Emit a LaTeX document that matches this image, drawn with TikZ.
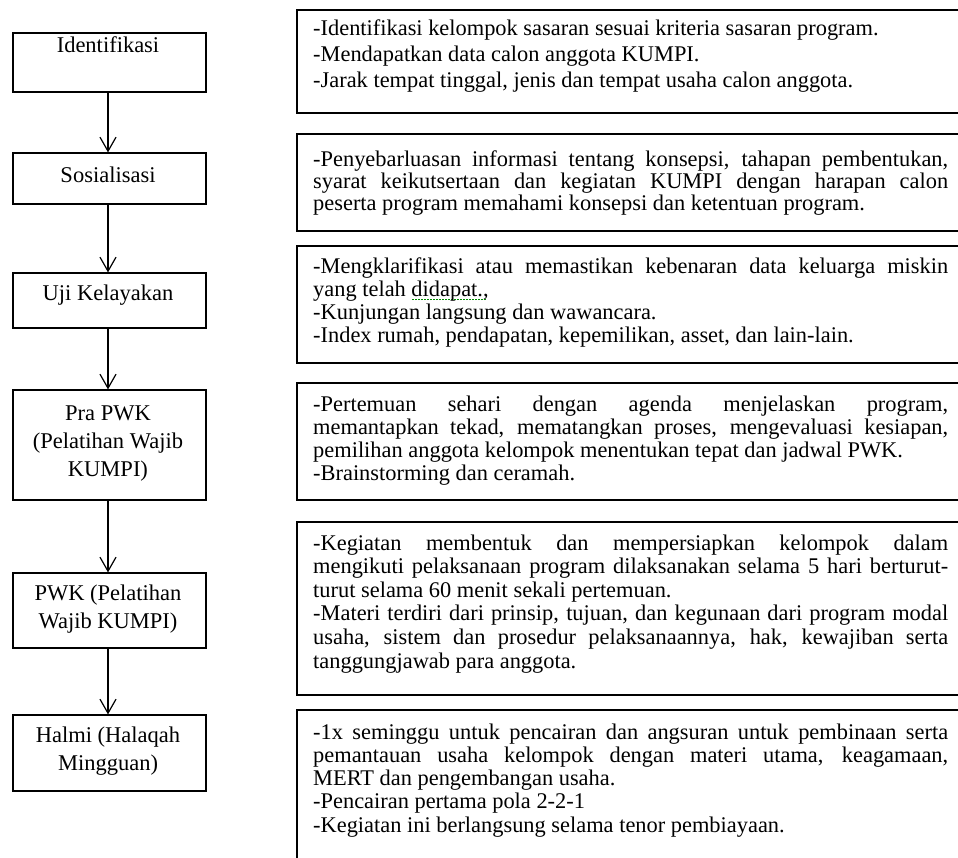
\documentclass[tikz,border=0pt]{standalone}
\usepackage{fontspec}
\setmainfont{Liberation Serif}
\usetikzlibrary{arrows.meta}
\newcommand{\jl}[1]{\makebox[635pt][s]{#1}}
\newcommand{\gdots}[1]{\setbox0=\hbox{#1}\rlap{\color{green!55!black}\hbox to \wd0{\leaders\hbox to 3pt{\hss\rule[-4pt]{1.3pt}{1.3pt}\hss}\hfill}}#1}
\newcommand{\rtext}[2]{\parbox[t]{635pt}{\fontsize{22.4}{#1}\selectfont #2}}
\newcommand{\ltext}[1]{\parbox[t]{190pt}{\centering\fontsize{22.5}{28}\selectfont #1}}
\tikzset{
  lbox/.style={draw, line width=1.2pt, minimum width=193pt, inner sep=0pt},
  rbox/.style={draw, line width=1.2pt, minimum width=668pt, inner sep=0pt},
  txt/.style={inner sep=0pt},
  arr/.style={line width=1.2pt, -{Straight Barb[length=14pt,width=16pt,line width=1.2pt]}}
}
\begin{document}
\begin{tikzpicture}[x=1pt,y=-1pt]
\useasboundingbox (0,0) rectangle (958,857);
\clip (0,0) rectangle (958,857);
\fill[white] (0,0) rectangle (958,857);
% left boxes
\node[lbox, minimum height=59pt] (L1) at (109.5,62.5) {};
\node[lbox, minimum height=51pt] (L2) at (109.5,178.5) {};
\node[lbox, minimum height=55pt] (L3) at (109.5,300.5) {};
\node[lbox, minimum height=110pt] (L4) at (109.5,445) {};
\node[lbox, minimum height=75pt] (L5) at (109.5,610.5) {};
\node[lbox, minimum height=76pt] (L6) at (109.5,753) {};
\node[txt, anchor=base] (l1) at (108,52) {\ltext{Identifikasi}};
\node[txt, anchor=base] (l2) at (108,182) {\ltext{Sosialisasi}};
\node[txt, anchor=base] (l3) at (108,300) {\ltext{Uji Kelayakan}};
\node[txt, anchor=base] (l4) at (108,420) {\ltext{Pra PWK\\(Pelatihan Wajib\\KUMPI)}};
\node[txt, anchor=base] (l5) at (108,600) {\ltext{PWK (Pelatihan\\Wajib KUMPI)}};
\node[txt, anchor=base] (l6) at (108,742) {\ltext{Halmi (Halaqah\\Mingguan)}};
% arrows
\draw[arr] (L1.south -| 108,0) -- (L2.north -| 108,0);
\draw[arr] (L2.south -| 108,0) -- (L3.north -| 108,0);
\draw[arr] (L3.south -| 108,0) -- (L4.north -| 108,0);
\draw[arr] (L4.south -| 108,0) -- (L5.north -| 108,0);
\draw[arr] (L5.south -| 108,0) -- (L6.north -| 108,0);
% right boxes
\node[rbox, minimum height=103pt] (R1) at (631,61.5) {};
\node[rbox, minimum height=97pt] (R2) at (631,182.5) {};
\node[rbox, minimum height=117pt] (R3) at (631,304.5) {};
\node[rbox, minimum height=117pt] (R4) at (631,441.5) {};
\node[rbox, minimum height=173pt] (R5) at (631,608.5) {};
\node[rbox, minimum height=160pt] (R6) at (631,790) {};
\node[txt, anchor=base west] (r1) at (313,35) {\rtext{26}{%
-Identifikasi kelompok sasaran sesuai kriteria sasaran program.\par
-Mendapatkan data calon anggota KUMPI.\par
-Jarak tempat tinggal, jenis dan tempat usaha calon anggota.}};
\node[txt, anchor=base west] (r2) at (313,166) {\rtext{22}{%
\jl{-Penyebarluasan informasi tentang konsepsi, tahapan pembentukan,}\par
\jl{syarat keikutsertaan dan kegiatan KUMPI dengan harapan calon}\par
peserta program memahami konsepsi dan ketentuan program.}};
\node[txt, anchor=base west] (r3) at (313,273) {\rtext{23}{%
\jl{-Mengklarifikasi atau memastikan kebenaran data keluarga miskin}\par
yang telah \gdots{didapat.,}\par
-Kunjungan langsung dan wawancara.\par
-Index rumah, pendapatan, kepemilikan, asset, dan lain-lain.}};
\node[txt, anchor=base west] (r4) at (313,411) {\rtext{23}{%
\jl{-Pertemuan sehari dengan agenda menjelaskan program,}\par
\jl{memantapkan tekad, mematangkan proses, mengevaluasi kesiapan,}\par
pemilihan anggota kelompok menentukan tepat dan jadwal PWK.\par
-Brainstorming dan ceramah.}};
\node[txt, anchor=base west] (r5) at (313,550) {\rtext{23.6}{%
\jl{-Kegiatan membentuk dan mempersiapkan kelompok dalam}\par
\jl{mengikuti pelaksanaan program dilaksanakan selama 5 hari berturut-}\par
turut selama 60 menit sekali pertemuan.\par
\jl{-Materi terdiri dari prinsip, tujuan, dan kegunaan dari program modal}\par
\jl{usaha, sistem dan prosedur pelaksanaannya, hak, kewajiban serta}\par
tanggungjawab para anggota.}};
\node[txt, anchor=base west] (r6) at (313,739) {\rtext{23.3}{%
\jl{-1x seminggu untuk pencairan dan angsuran untuk pembinaan serta}\par
\jl{pemantauan usaha kelompok dengan materi utama, keagamaan,}\par
MERT dan pengembangan usaha.\par
-Pencairan pertama pola 2-2-1\par
-Kegiatan ini berlangsung selama tenor pembiayaan.}};
\end{tikzpicture}
\end{document}
